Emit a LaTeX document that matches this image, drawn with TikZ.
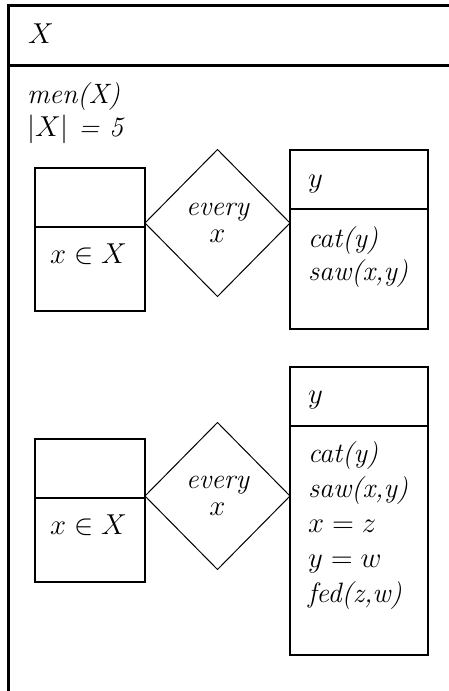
\documentclass[tikz,border=0pt]{standalone}
\usepackage{tikz}
\usetikzlibrary{shapes,positioning,calc}

\begin{document}
\begin{tikzpicture}[x=0.5pt, y=-0.5pt,
    every node/.style={inner sep=0pt, outer sep=0pt, font=\fontsize{14}{17}\selectfont\itshape},
    frame/.style={line width=1.5pt},
    drsbox/.style={rectangle, draw, line width=1pt, anchor=north west},
    quant/.style={diamond, draw, line width=0.5pt, minimum width=72.5pt, minimum height=73.5pt, align=center},
    conds/.style={anchor=base west, align=left}
]
    \useasboundingbox (0,0) rectangle (449,691);
    \clip (0,0) rectangle (449,691);

    % outer box (base of the last line is given for the condition lists)
    \coordinate (topleft) at (8,5);
    \draw[frame] (8,700) -- (topleft) -- (460,5);
    \draw[frame] (8,65) -- (460,65);
    \node[anchor=base west] (univ) at (28,43) {$X$};
    \node[conds] (outer) at (27,136) {men(X)\\[-0.5pt]$|X|$ = 5};

    % first duplex
    \node[drsbox, minimum width=55pt, minimum height=71.5pt] (lbox1) at (35,168) {};
    \node[quant] (q1) at (217.5,223) {every\\[-3.5pt]$x$};
    \node[drsbox, minimum width=69pt, minimum height=89.5pt] (rbox1) at (290,150) {};
    \node[anchor=base west] (lin1) at (50,263) {$x \in X$};
    \node[anchor=base west] (rref1) at (308,187) {$y$};
    \node[conds] (rcond1) at (308,280) {cat(y)\\[-0.5pt]saw(x,y)};

    % second duplex
    \node[drsbox, minimum width=55pt, minimum height=71.5pt] (lbox2) at (35,439) {};
    \node[quant] (q2) at (217.5,496) {every\\[-3.5pt]$x$};
    \node[drsbox, minimum width=69pt, minimum height=144pt] (rbox2) at (290,367) {};
    \node[anchor=base west] (lin2) at (50,534) {$x \in X$};
    \node[anchor=base west] (rref2) at (308,403) {$y$};
    \node[conds] (rcond2) at (308,602) {cat(y)\\[0.5pt]saw(x,y)\\[0.5pt]$x = z$\\[0.5pt]$y = w$\\[0.5pt]fed(z,w)};

    \foreach \b in {lbox1,rbox1,lbox2,rbox2}
        \draw[line width=1pt] ([yshift=-29.5pt]\b.north west) -- ([yshift=-29.5pt]\b.north east);
\end{tikzpicture}
\end{document}
